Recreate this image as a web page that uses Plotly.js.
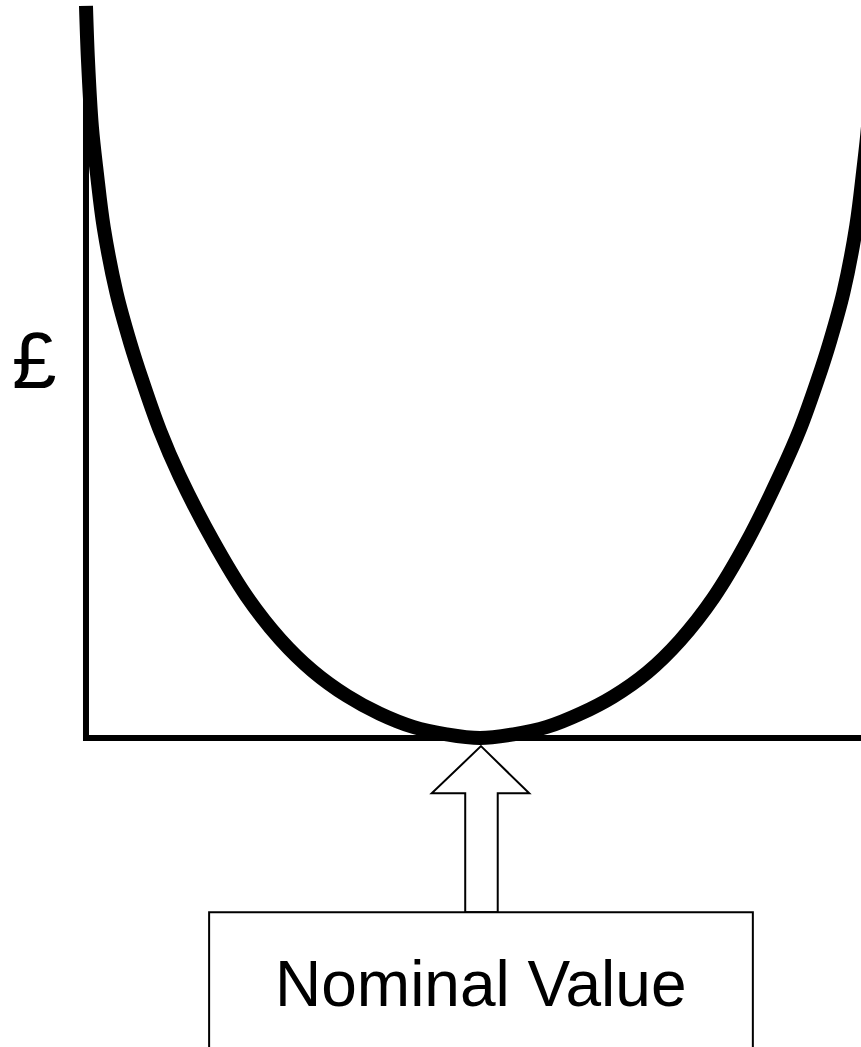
<!DOCTYPE html>
<html>
<head>
    <title>Loss function</title>
    <script src="https://cdn.plot.ly/plotly-3.0.1.min.js"></script>
    <style>
        body { margin: 0; background: #fff; }
    </style>
</head>
<body>
    <div id="lossPlot"></div>

    <script>
        // deviation from the nominal value and the loss in £
        const deviation = [-4.00, -3.98, -3.94, -3.89, -3.82, -3.69, -3.55, -3.43, -3.25, -3.05,
                           -2.71, -2.37, -2.03, -1.70, -1.35, -1.02, -0.68, -0.34, 0.00,
                           0.34, 0.68, 1.02, 1.35, 1.70, 2.03, 2.37, 2.71, 3.05, 3.25,
                           3.43, 3.55, 3.69, 3.82, 3.89, 3.94, 3.98];
        const loss = [9.92, 9.19, 8.28, 7.66, 6.92, 6.03, 5.35, 4.85, 4.17, 3.55,
                      2.67, 1.92, 1.34, 0.91, 0.57, 0.33, 0.15, 0.05, 0.00,
                      0.05, 0.15, 0.33, 0.56, 0.89, 1.32, 1.90, 2.66, 3.58, 4.19,
                      4.86, 5.36, 6.04, 6.94, 7.68, 8.30, 9.20];

        const nominal = 0;
        const yAxisAt = -4;
        const xRange = [-4.873, 3.868];
        const yRange = [-4.187, 10];

        const curve = {
            x: deviation,
            y: loss,
            type: "scatter",
            mode: "lines",
            line: { color: "#000", width: 14, shape: "spline", smoothing: 1 },
            hoverinfo: "skip"
        };

        // block arrow pointing up at the nominal value
        const arrowPath = "M " + (nominal + 0.01) + " -0.11 L " + (nominal + 0.50) + " -0.75 L " +
            (nominal + 0.18) + " -0.75 L " + (nominal + 0.18) + " -2.36 L " + (nominal - 0.15) + " -2.36 L " +
            (nominal - 0.15) + " -0.75 L " + (nominal - 0.49) + " -0.75 Z";

        const layout = {
            width: 861,
            height: 1047,
            margin: { l: 0, r: 0, t: 0, b: 0 },
            paper_bgcolor: "#fff",
            plot_bgcolor: "#fff",
            showlegend: false,
            xaxis: { range: xRange, visible: false, fixedrange: true },
            yaxis: { range: yRange, visible: false, fixedrange: true },
            shapes: [
                {
                    type: "path", xref: "x", yref: "y", layer: "below",
                    path: "M " + yAxisAt + " " + loss[0] + " L " + yAxisAt + " 0 L 3.95 0",
                    line: { color: "#000", width: 6 }
                },
                {
                    type: "path", xref: "x", yref: "y",
                    path: arrowPath,
                    fillcolor: "#fff",
                    line: { color: "#000", width: 2 }
                },
                {
                    type: "rect", xref: "x", yref: "y",
                    x0: -2.75, x1: 2.77, y0: -2.36, y1: -4.5,
                    fillcolor: "#fff",
                    line: { color: "#000", width: 2 }
                }
            ],
            annotations: [
                {
                    x: nominal, y: -3.33, xref: "x", yref: "y",
                    text: "Nominal Value", showarrow: false,
                    font: { family: "Liberation Sans, Arial, sans-serif", size: 64, color: "#000" }
                },
                {
                    x: -4.52, y: 5.12, xref: "x", yref: "y",
                    text: "£", showarrow: false,
                    font: { family: "Liberation Sans, Arial, sans-serif", size: 80, color: "#000" }
                }
            ]
        };

        Plotly.newPlot("lossPlot", [curve], layout, { displayModeBar: false, staticPlot: true });
    </script>
</body>
</html>
